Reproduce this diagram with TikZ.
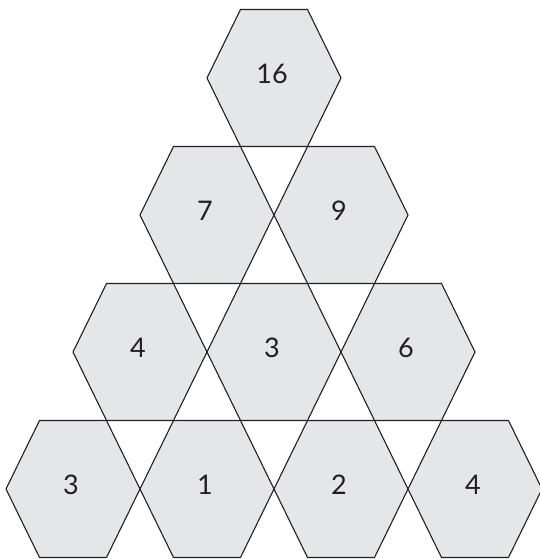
\documentclass[tikz,border=0pt]{standalone}
\usepackage{fontspec}
\setmainfont{Lato}
\usepackage{tikz}
\definecolor{hexgray}{RGB}{229, 230, 232}
\definecolor{hexline}{RGB}{35, 31, 32}

\begin{document}
\begin{tikzpicture}[
  x=1pt, y=-1pt,
  every node/.style={font=\fontsize{27}{30}\selectfont},
  hexcell/.style={fill=hexgray, draw=hexline, line width=1.1pt, line join=miter},
  num/.style={inner sep=0pt, text=hexline},
]
  \useasboundingbox (0,0) rectangle (539,559);
  % rows of the pyramid, top to bottom
  \foreach \name/\x/\y/\val in {top/274/78/16,
      midl/207/215/7, midr/341/215/9,
      lowl/140/352/4, lowc/274/352/3, lowr/408/352/6,
      basea/73/489/3, baseb/207/489/1, basec/341/489/2, based/475/489/4} {
    \draw[hexcell] (\x-67,\y) -- ++(33.5,-68.5) -- ++(67,0) -- ++(33.5,68.5)
      -- ++(-33.5,68.5) -- ++(-67,0) -- cycle;
    \node[num] (\name) at (\x-2,\y-4) {\val};
  }
\end{tikzpicture}
\end{document}
